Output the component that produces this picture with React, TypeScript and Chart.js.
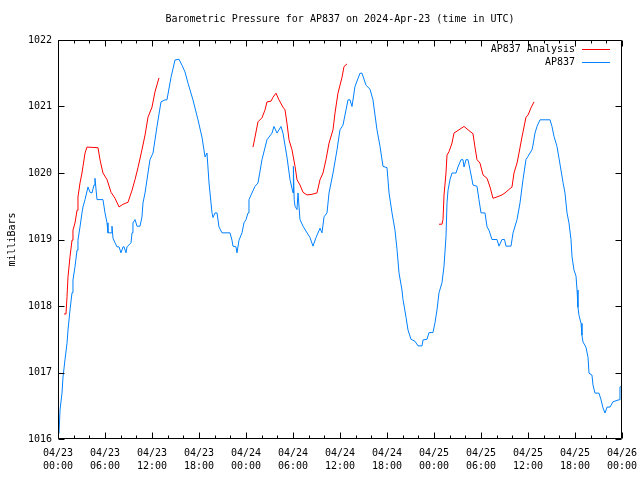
import React, { useEffect, useRef } from "react";
import { Chart, registerables } from "chart.js";

Chart.register(...registerables);

const TITLE = "Barometric Pressure for AP837 on 2024-Apr-23 (time in UTC)";
const Y_LABEL = "milliBars";
const SERIES_ANALYSIS = "AP837 Analysis";
const SERIES_STATION = "AP837";

const tickDates = ["04/23", "04/23", "04/23", "04/23", "04/24", "04/24", "04/24", "04/24", "04/25", "04/25", "04/25", "04/25", "04/26"];
const tickTimes = ["00:00", "06:00", "12:00", "18:00", "00:00", "06:00", "12:00", "18:00", "00:00", "06:00", "12:00", "18:00", "00:00"];

// hours since 2024-04-23 00:00 UTC
const stationHours = [
  0, 0.13, 0.26, 0.51, 0.64, 0.89, 1.15, 1.28, 1.53, 1.79, 1.91, 2.17, 2.43, 2.55, 2.81, 3.06, 3.19, 3.45, 3.83, 4.09,
  4.34, 4.6, 4.72, 4.98, 5.74, 6.0, 6.26, 6.38, 6.77, 6.89, 7.02, 7.28, 7.53, 7.79, 8.04, 8.3, 8.43, 8.68, 8.81, 9.32,
  9.45, 9.57, 9.83, 10.09, 10.47, 10.72, 10.85, 11.11, 11.74, 12.13, 12.64, 13.15, 13.66, 13.91, 14.43, 14.94, 15.45, 15.83, 16.21, 16.6,
  17.23, 17.87, 18.38, 18.77, 19.02, 19.28, 19.66, 19.79, 20.04, 20.3, 20.55, 20.94, 21.96, 22.21, 22.34, 22.72, 22.85, 23.11, 23.49, 23.74,
  24.0, 24.26, 24.38, 25.15, 25.53, 26.04, 26.68, 27.32, 27.57, 27.96, 28.47, 28.72, 29.23, 29.62, 30.0, 30.05, 30.15, 30.26, 30.51, 30.64,
  30.89, 31.28, 31.79, 32.17, 32.55, 32.94, 33.45, 33.7, 33.96, 34.34, 34.6, 35.11, 35.62, 36.0, 36.38, 36.77, 37.02, 37.28, 37.53, 37.91,
  38.55, 38.81, 39.32, 39.83, 40.21, 40.72, 41.11, 41.49, 42.0, 42.26, 42.64, 43.02, 43.28, 43.53, 43.91, 44.04, 44.43, 44.68, 45.06, 45.57,
  45.96, 46.47, 46.6, 47.11, 47.36, 47.87, 48.13, 48.38, 48.64, 49.02, 49.28, 49.53, 49.66, 49.79, 50.04, 50.3, 50.81, 51.06, 51.45, 51.7,
  51.83, 52.09, 52.34, 52.6, 52.98, 53.49, 53.74, 54.0, 54.51, 54.77, 55.02, 55.4, 56.04, 56.3, 56.68, 57.0, 57.19, 57.83, 58.09, 58.6,
  58.98, 59.36, 59.74, 60.0, 60.51, 60.64, 60.89, 61.15, 61.53, 62.81, 63.06, 63.32, 63.7, 63.96, 64.47, 64.72, 64.98, 65.23, 65.49, 65.62,
  65.87, 66.13, 66.26, 66.38, 66.51, 66.77, 66.89, 67.02, 67.4, 67.66, 67.79, 68.17, 68.3, 68.55, 69.06, 69.32, 69.57, 69.83, 70.09, 70.47,
  70.85, 71.62, 71.74, 72,
];
const stationPressure = [
  1016.05, 1016.09, 1016.44, 1016.69, 1016.93, 1017.19, 1017.44, 1017.64, 1017.94, 1018.2, 1018.39, 1018.59, 1018.84, 1018.99, 1019.19, 1019.4, 1019.49, 1019.6, 1019.79, 1019.71,
  1019.7, 1019.82, 1019.92, 1019.6, 1019.6, 1019.4, 1019.25, 1019.1, 1019.1, 1019.2, 1019.02, 1018.95, 1018.89, 1018.89, 1018.8, 1018.89, 1018.89, 1018.8, 1018.89, 1018.95,
  1019.1, 1019.25, 1019.3, 1019.2, 1019.2, 1019.34, 1019.55, 1019.7, 1020.2, 1020.3, 1020.7, 1021.07, 1021.1, 1021.1, 1021.44, 1021.7, 1021.71, 1021.62, 1021.52, 1021.35,
  1021.1, 1020.8, 1020.54, 1020.24, 1020.3, 1019.85, 1019.4, 1019.33, 1019.4, 1019.4, 1019.19, 1019.1, 1019.1, 1018.99, 1018.9, 1018.89, 1018.8, 1018.99, 1019.1, 1019.25,
  1019.3, 1019.4, 1019.6, 1019.8, 1019.85, 1020.2, 1020.5, 1020.6, 1020.7, 1020.6, 1020.7, 1020.6, 1020.24, 1019.9, 1019.7, 1020.1, 1019.6, 1019.5, 1019.45, 1019.7,
  1019.3, 1019.2, 1019.1, 1019.03, 1018.9, 1019.03, 1019.17, 1019.1, 1019.34, 1019.4, 1019.7, 1020.0, 1020.35, 1020.65, 1020.72, 1020.95, 1021.1, 1021.1, 1021.0, 1021.3,
  1021.5, 1021.5, 1021.32, 1021.26, 1021.1, 1020.65, 1020.4, 1020.1, 1020.08, 1019.7, 1019.4, 1019.14, 1018.85, 1018.5, 1018.24, 1018.1, 1017.83, 1017.64, 1017.5, 1017.47,
  1017.4, 1017.4, 1017.49, 1017.5, 1017.6, 1017.6, 1017.75, 1017.94, 1018.2, 1018.35, 1018.6, 1019.04, 1019.55, 1019.74, 1019.9, 1020.0, 1020.0, 1020.09, 1020.2, 1020.2,
  1020.09, 1020.2, 1020.2, 1020.05, 1019.82, 1019.8, 1019.6, 1019.4, 1019.4, 1019.19, 1019.14, 1019.0, 1019.0, 1018.9, 1019.0, 1019.0, 1018.9, 1018.9, 1019.1, 1019.3,
  1019.55, 1019.9, 1020.2, 1020.25, 1020.35, 1020.42, 1020.6, 1020.7, 1020.8, 1020.8, 1020.7, 1020.55, 1020.4, 1020.22, 1019.86, 1019.7, 1019.4, 1019.25, 1019.0, 1018.74,
  1018.54, 1018.45, 1018.24, 1017.98, 1017.86, 1017.74, 1017.56, 1017.46, 1017.38, 1017.23, 1016.99, 1016.96, 1016.81, 1016.69, 1016.69, 1016.59, 1016.47, 1016.39, 1016.48, 1016.48,
  1016.56, 1016.59, 1016.78, 1016.8,
];

// analysis runs (null separates runs)
const analysisHours = [
  0.77, 1.02, 1.15, 1.28, 1.53, 1.79, 1.91, 2.17, 2.43, 2.55, 2.81, 3.06, 3.19, 3.45, 3.7, 5.11, 5.36, 5.74, 6.26, 6.77,
  7.28, 7.79, 8.3, 8.94, 9.45, 9.83, 10.21, 10.72, 11.11, 11.49, 12.0, 12.38, 12.89,
  18.0,
  24.89, 25.15, 25.53, 26.04, 26.43, 26.68, 27.19, 27.45, 27.83, 28.21, 28.72, 28.98, 29.23, 29.49, 29.87, 30.26, 30.51, 30.89, 31.28, 31.79,
  32.43, 33.06, 33.45, 33.83, 34.21, 34.6, 35.11, 35.36, 35.74, 36.26, 36.51, 36.89,
  42.0,
  48.64, 49.02, 49.15, 49.28, 49.53, 49.66, 49.91, 50.3, 50.55, 50.94, 51.32, 51.83, 52.34, 52.98, 53.23, 53.49, 53.87, 54.26, 54.77, 55.15,
  55.53, 56.04, 56.68, 57.06, 57.45, 57.96, 58.21, 58.6, 58.85, 59.23, 59.49, 59.74, 60.0, 60.38, 60.77,
];
const analysisPressure = [
  1017.88, 1017.88, 1018.14, 1018.44, 1018.74, 1018.99, 1019.14, 1019.25, 1019.44, 1019.64, 1019.85, 1020.0, 1020.1, 1020.3, 1020.39, 1020.38, 1020.2, 1020.0, 1019.9, 1019.71,
  1019.62, 1019.49, 1019.53, 1019.56, 1019.74, 1019.9, 1020.08, 1020.35, 1020.57, 1020.84, 1020.99, 1021.22, 1021.43,
  null,
  1020.39, 1020.54, 1020.77, 1020.83, 1020.95, 1021.07, 1021.08, 1021.14, 1021.2, 1021.1, 1020.99, 1020.95, 1020.75, 1020.5, 1020.35, 1020.1, 1019.9, 1019.82, 1019.71, 1019.67,
  1019.68, 1019.7, 1019.9, 1020.0, 1020.2, 1020.45, 1020.65, 1020.9, 1021.2, 1021.44, 1021.6, 1021.64,
  null,
  1019.23, 1019.23, 1019.3, 1019.67, 1020.0, 1020.27, 1020.32, 1020.45, 1020.6, 1020.63, 1020.66, 1020.7, 1020.65, 1020.59, 1020.39, 1020.2, 1020.15, 1019.97, 1019.92, 1019.79,
  1019.62, 1019.64, 1019.67, 1019.7, 1019.74, 1019.79, 1020.0, 1020.15, 1020.3, 1020.54, 1020.69, 1020.84, 1020.87, 1020.98, 1021.07,
];

const RED = "#ff0000";
const BLUE = "#0080ff";
const FONT = "'DejaVu Sans Mono', monospace";

const decorPlugin = {
  id: "decor",
  afterDraw(chart: any) {
    const { ctx, chartArea: a, scales } = chart;
    const xs = scales.x;
    const ys = scales.y;
    const L = Math.round(a.left) + 0.5;
    const R = Math.round(a.right) - 0.5;
    const T = Math.round(a.top) + 0.5;
    const B = Math.round(a.bottom) - 0.5;
    ctx.save();
    ctx.strokeStyle = "#000";
    ctx.lineWidth = 1;
    ctx.beginPath();
    ctx.rect(L, T, R - L, B - T);
    for (let h = 0; h <= 72; h += 2) {
      const px = Math.round(xs.getPixelForValue(h)) + 0.5;
      const len = h % 6 === 0 ? 6 : 3;
      ctx.moveTo(px, B);
      ctx.lineTo(px, B - len);
      ctx.moveTo(px, T);
      ctx.lineTo(px, T + len);
    }
    for (let v = 1016; v <= 1022; v += 1) {
      const py = Math.round(ys.getPixelForValue(v)) + 0.5;
      ctx.moveTo(L, py);
      ctx.lineTo(L + 6, py);
      ctx.moveTo(R, py);
      ctx.lineTo(R - 6, py);
    }
    ctx.stroke();

    ctx.fillStyle = "#000";
    ctx.font = "10px " + FONT;
    ctx.textBaseline = "middle";
    ctx.textAlign = "center";
    ctx.fillText(TITLE, (a.left + a.right) / 2, 19);

    ctx.save();
    ctx.translate(12, (a.top + a.bottom) / 2);
    ctx.rotate(-Math.PI / 2);
    ctx.fillText(Y_LABEL, 0, 0);
    ctx.restore();

    ctx.textAlign = "right";
    const entries = [
      { label: SERIES_ANALYSIS, color: RED, y: 49 },
      { label: SERIES_STATION, color: BLUE, y: 62 },
    ];
    for (const e of entries) {
      ctx.fillStyle = "#000";
      ctx.fillText(e.label, 575, e.y);
      ctx.strokeStyle = e.color;
      ctx.beginPath();
      ctx.moveTo(582, e.y + 0.5);
      ctx.lineTo(610, e.y + 0.5);
      ctx.stroke();
    }
    ctx.restore();
  },
};

export default function App() {
  const ref = useRef<HTMLCanvasElement | null>(null);
  useEffect(() => {
    if (!ref.current) return;
    const station = stationHours.map((h, i) => ({ x: h, y: stationPressure[i] }));
    const analysis = analysisHours.map((h, i) => ({ x: h, y: analysisPressure[i] }));
    const chart = new Chart(ref.current, {
      type: "line",
      data: {
        datasets: [
          {
            label: SERIES_ANALYSIS,
            data: analysis as any,
            borderColor: RED,
            borderWidth: 1,
            pointRadius: 0,
            spanGaps: false,
            tension: 0,
          },
          {
            label: SERIES_STATION,
            data: station as any,
            borderColor: BLUE,
            borderWidth: 1,
            pointRadius: 0,
            tension: 0,
          },
        ],
      },
      options: {
        responsive: false,
        animation: false,
        devicePixelRatio: 1,
        layout: { padding: { left: 0, top: 40, right: 18, bottom: 0 } },
        plugins: { legend: { display: false }, title: { display: false }, tooltip: { enabled: false } },
        scales: {
          x: {
            type: "linear",
            min: 0,
            max: 72,
            border: { display: false },
            grid: { display: false, drawTicks: false },
            ticks: {
              stepSize: 6,
              autoSkip: false,
              maxRotation: 0,
              padding: 8,
              color: "#000",
              font: { family: FONT, size: 10, lineHeight: 1.3 },
              callback: (v: any) => {
                const i = Math.round(Number(v) / 6);
                return [tickDates[i], tickTimes[i]];
              },
            },
            afterFit: (s: any) => {
              s.height = 41;
              s.paddingLeft = 0;
              s.paddingRight = 0;
            },
          },
          y: {
            min: 1016,
            max: 1022,
            border: { display: false },
            grid: { display: false, drawTicks: false },
            ticks: {
              stepSize: 1,
              padding: 6,
              color: "#000",
              font: { family: FONT, size: 10 },
              callback: (v: any) => String(v),
            },
            afterFit: (s: any) => {
              s.width = 58;
              s.paddingTop = 0;
              s.paddingBottom = 0;
            },
          },
        },
      },
      plugins: [decorPlugin],
    });
    return () => chart.destroy();
  }, []);
  return (
    <div style={{ position: "fixed", left: 0, top: 0, width: 640, height: 480, background: "#fff" }}>
      <canvas ref={ref} width={640} height={480} style={{ width: 640, height: 480 }} />
    </div>
  );
}
